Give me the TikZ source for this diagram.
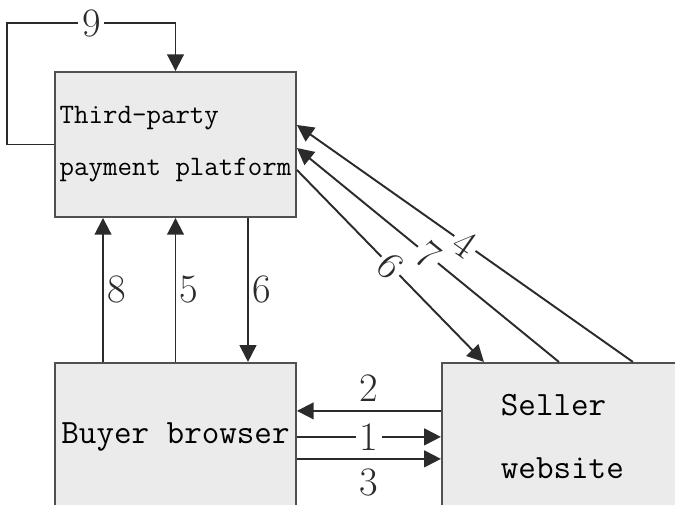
\documentclass[tikz,border=0pt]{standalone}
\usepackage{tikz}
\usetikzlibrary{arrows.meta,positioning}
\usepackage{xcolor}
\definecolor{payBox}{HTML}{EBEBEB}
\definecolor{payEdge}{HTML}{505050}
\definecolor{payLine}{HTML}{2B2B2B}

\begin{document}
\begin{tikzpicture}[x=0.02cm,y=0.02cm,node distance=2.88cm,>={Triangle[length=9.5pt,width=9.5pt]}]
  \tikzstyle{partybox}=[draw=payEdge,fill=payBox,line width=1.1pt,minimum width=4.82cm,inner sep=0pt,align=left]
  \tikzstyle{flow}=[->,line width=1.1pt,draw=payLine]
  \tikzstyle{numlabel}=[font=\fontsize{23}{26}\selectfont,inner sep=2pt,text=payLine]
  \useasboundingbox (0,0) rectangle (675,-504);
  \clip (0,0) rectangle (675,-504);
  \node[partybox,minimum height=2.9cm,font=\fontsize{16}{29.6}\selectfont\ttfamily] (platform) at (175.5,-144.5) {Third-party\\payment platform};
  \node[partybox,minimum height=2.96cm,below=of platform,font=\fontsize{19.4}{35.9}\selectfont\ttfamily] (buyer) {Buyer browser};
  \node[partybox,minimum height=2.96cm,right=of buyer,font=\fontsize{19.4}{35.9}\selectfont\ttfamily] (seller) {Seller\\website};
  % self loop on the platform
  \draw[flow] (platform.west) -- ++(-47,0) |- node[numlabel,fill=white,pos=0.75]{9} ([yshift=0.96cm]platform.north) -- (platform.north);
  % buyer <-> platform
  \draw[flow] ([xshift=-1.45cm]buyer.north) -- node[numlabel,right]{8} ([xshift=-1.45cm]platform.south);
  \draw[flow] (buyer.north) -- node[numlabel,right]{5} (platform.south);
  \draw[flow] ([xshift=1.45cm]platform.south) -- node[numlabel,right]{6} ([xshift=1.45cm]buyer.north);
  % buyer <-> seller
  \draw[flow] ([yshift=0.52cm]seller.west) -- node[numlabel,above=3pt]{2} ([yshift=0.52cm]buyer.east);
  \draw[flow] (buyer.east) -- node[numlabel,fill=white]{1} (seller.west);
  \draw[flow] ([yshift=-0.44cm]buyer.east) -- node[numlabel,below=3pt]{3} ([yshift=-0.44cm]seller.west);
  % seller <-> platform
  \draw[flow] ([xshift=3.84cm]seller.north west) -- node[numlabel,fill=white,sloped]{4} ([yshift=0.39cm]platform.east);
  \draw[flow] ([xshift=2.36cm]seller.north west) -- node[numlabel,fill=white,sloped]{7} ([yshift=-0.07cm]platform.east);
  \draw[flow] ([yshift=-0.51cm]platform.east) -- node[numlabel,fill=white,sloped]{6} ([xshift=0.86cm]seller.north west);
\end{tikzpicture}
\end{document}
